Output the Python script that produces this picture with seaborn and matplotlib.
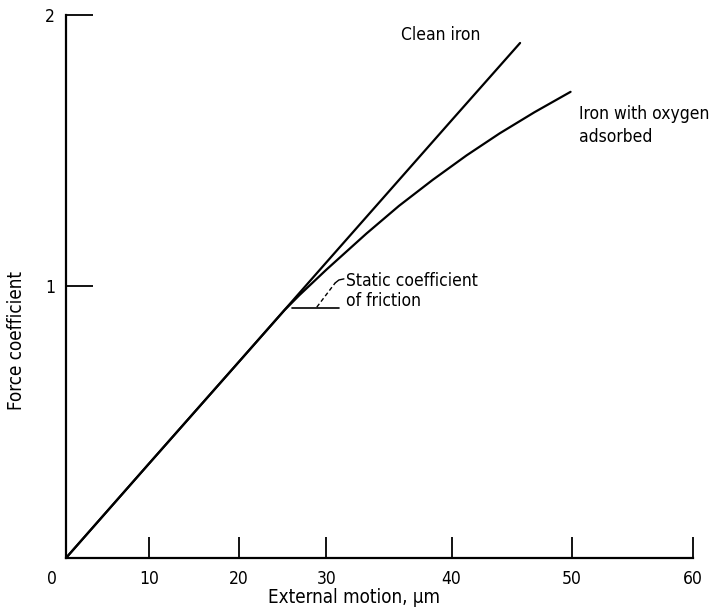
import numpy as np
import pandas as pd
import matplotlib
matplotlib.use("Agg")
import matplotlib.pyplot as plt
import matplotlib.transforms as mtransforms
import seaborn as sns

# ---- data ----
clean_x = [0, 10, 20, 30, 40, 45.7]
clean_y = [0, 0.348, 0.724, 1.089, 1.612, 1.897]

oxygen_x = [0, 10, 20, 25.2, 26.9, 30, 33.2, 35.8, 38.5, 41.25, 44.0, 46.9, 49.9]
oxygen_y = [0, 0.348, 0.724, 0.913, 0.968, 1.062, 1.195, 1.297, 1.393, 1.483, 1.564, 1.642, 1.717]

x_ticks = [0, 10, 20, 30, 40, 50, 60]
x_ticklabels = ["0", "10", "20", "30", "40", "50", "60"]
y_ticks = [1, 2]
y_ticklabels = ["1", "2"]

# the original drawing's x axis is not evenly graduated: relative tick spacing
x_tick_spacing = [0, 83, 173, 260, 385, 505, 626]

static_line_x = [26.0, 31.0]
static_line_y = [0.921, 0.921]
leader_x = [28.9, 30.7]
leader_y = [0.924, 1.013]
hook_x = [30.7, 31.0, 31.4]
hook_y = [1.013, 1.024, 1.028]

sns.set_theme(style="white")
plt.rcParams["font.family"] = ["DejaVu Sans"]
plt.rcParams["font.stretch"] = "condensed"


def _extrap(v, xp, fp):
    v = np.asarray(v, dtype=float)
    out = np.interp(v, xp, fp)
    lo = v < xp[0]
    hi = v > xp[-1]
    s0 = (fp[1] - fp[0]) / (xp[1] - xp[0])
    s1 = (fp[-1] - fp[-2]) / (xp[-1] - xp[-2])
    out = np.where(lo, fp[0] + (v - xp[0]) * s0, out)
    out = np.where(hi, fp[-1] + (v - xp[-1]) * s1, out)
    return out


def fwd(v):
    return _extrap(v, np.array(x_ticks, float), np.array(x_tick_spacing, float))


def inv(v):
    return _extrap(v, np.array(x_tick_spacing, float), np.array(x_ticks, float))


fig = plt.figure(figsize=(7.25, 6.15), dpi=100)
fig.patch.set_facecolor("white")
ax = fig.add_axes([0.0910, 0.0927, 0.8648, 0.8829])
ax.set_facecolor("white")
ax.set_xscale("function", functions=(fwd, inv))

df_clean = pd.DataFrame({"x": clean_x, "y": clean_y})
df_oxy = pd.DataFrame({"x": oxygen_x, "y": oxygen_y})
sns.lineplot(data=df_clean, x="x", y="y", ax=ax, color="black", lw=1.6, estimator=None)
sns.lineplot(data=df_oxy, x="x", y="y", ax=ax, color="black", lw=1.6, estimator=None)

ax.plot(static_line_x, static_line_y, color="black", lw=1.2)
ax.plot(leader_x, leader_y, color="black", lw=1.0, ls=(0, (3, 2)))
ax.plot(hook_x, hook_y, color="black", lw=1.0)

ax.set_xlim(0, 60)
ax.set_ylim(0, 2)

for s in ["top", "right"]:
    ax.spines[s].set_visible(False)
for s in ["left", "bottom"]:
    ax.spines[s].set_color("black")
    ax.spines[s].set_linewidth(1.6)

ax.set_xticks(x_ticks)
ax.set_xticklabels(x_ticklabels)
ax.set_yticks(y_ticks)
ax.set_yticklabels(y_ticklabels)
ax.tick_params(axis="x", direction="in", length=15, width=1.3, color="black",
               labelsize=12.5, pad=9, labelcolor="black", bottom=True)
ax.tick_params(axis="y", direction="in", length=19.5, width=1.3, color="black",
               labelsize=12.5, pad=8, labelcolor="black", left=True)
ax.grid(False)

# shift the "0" label left of the origin as in the original
lbl0 = ax.get_xticklabels()[0]
lbl0.set_transform(lbl0.get_transform() +
                   mtransforms.ScaledTranslation(-14 / 100, 0, fig.dpi_scale_trans))

ax.set_xlabel("External motion, \u00b5m", fontsize=13.5, color="black")
ax.xaxis.set_label_coords(0.46, -0.056)
ax.set_ylabel("Force coefficient", fontsize=13.5, color="black")
ax.yaxis.set_label_coords(-0.063, 0.40)

ax.text(36.0, 1.926, "Clean iron", fontsize=12.5, ha="left", va="center", color="black")
ax.text(50.6, 1.593, "Iron with oxygen\nadsorbed", fontsize=12.5, ha="left", va="center",
        linespacing=1.4, color="black")
ax.text(31.6, 0.982, "Static coefficient\nof friction", fontsize=12.5, ha="left", va="center",
        linespacing=1.15, color="black")

fig.savefig("out.png", dpi=100, facecolor="white")
